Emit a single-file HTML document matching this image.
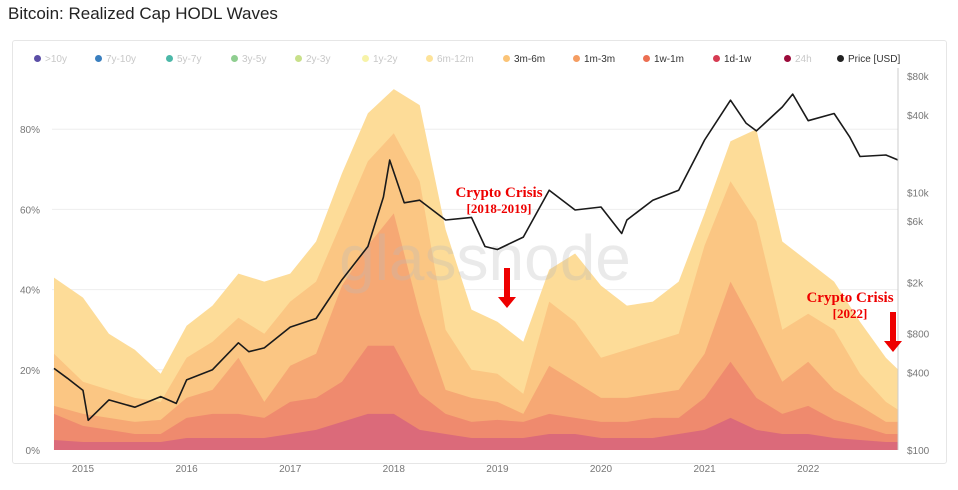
<!DOCTYPE html>
<html><head><meta charset="utf-8">
<style>
body{margin:0;background:#fff;font-family:"Liberation Sans",sans-serif;}
#wrap{position:relative;width:958px;height:490px;overflow:hidden;background:#fff}
.t{position:absolute;left:8px;top:4px;font-size:17px;color:#222;}
.card{position:absolute;left:12px;top:40px;width:933px;height:422px;border:1px solid #e6e6e6;border-radius:3px}
.leg{position:absolute;top:54px;font-size:10px;white-space:nowrap}
.leg i{display:inline-block;width:7px;height:7px;border-radius:50%;margin-right:4px;vertical-align:0}
</style></head>
<body><div id="wrap">
<div class="t">Bitcoin: Realized Cap HODL Waves</div>
<div class="card"></div>
<div id="legend"></div>
<svg id="svg" width="958" height="490" style="position:absolute;left:0;top:0"></svg>
</div>
<script>
const years=[2014.72,2015.0,2015.25,2015.5,2015.75,2016.0,2016.25,2016.5,2016.75,2017.0,2017.25,2017.5,2017.75,2018.0,2018.25,2018.5,2018.75,2019.0,2019.25,2019.5,2019.75,2020.0,2020.25,2020.5,2020.75,2021.0,2021.25,2021.5,2021.75,2022.0,2022.25,2022.5,2022.75,2022.87];
// layer shares (%), bottom to top
const s1d1w=[2.5,2,2,2,2,3,3,3,3,4,5,7,9,9,5,4,3,3,3,4,4,3,3,3,4,5,8,5,4,4,3,2.5,2,2];
const s1w1m=[6.5,4,3,2,2,5,6,6,5,8,8,10,17,17,9,5,4,4.5,4,5,4,4,4,5,4,8,14,8,5,7,4.5,3.5,2,2];
const s1m3m=[2,3,3,3,3.5,5,6,14,4,9,11,24,25,33,20,6,6,4.5,2,12,9,6,6,6,7,11,20,17,8,11,7.5,5,3,3];
const s3m6m=[13,8,7,6,4.5,10,12,10,17,16,18,16,21,20,33,15,7,7,5,16,15,10,12,13,14,27,25,27,13,12,15,8,5,3];
const s6m12m=[19,21,14,12,7,8,9,11,13,7,10,12,12,11,19,25,15,13,13,8,17,18,11,10,13,8,10,23,22,13,12,13,11,10];
const priceYears=[2014.72,2014.85,2015.0,2015.05,2015.25,2015.5,2015.75,2015.9,2016.0,2016.25,2016.5,2016.6,2016.75,2017.0,2017.25,2017.5,2017.75,2017.9,2017.96,2018.1,2018.25,2018.5,2018.75,2018.88,2019.0,2019.25,2019.5,2019.75,2020.0,2020.2,2020.25,2020.5,2020.75,2021.0,2021.25,2021.4,2021.5,2021.75,2021.85,2022.0,2022.25,2022.4,2022.5,2022.75,2022.87];
const prices=[430,360,290,170,245,215,260,230,350,420,680,580,620,900,1050,2100,3800,9200,17800,8300,8700,6100,6400,3800,3600,4500,10400,7300,7700,4800,6100,8700,10400,25500,52000,34500,30000,46000,58000,36000,41000,27000,19000,19500,17800];
const pctTicks=[0,20,40,60,80];
const priceTicks=[100,400,800,2000,6000,10000,40000,80000];
const priceTickLabels=["$100","$400","$800","$2k","$6k","$10k","$40k","$80k"];
const yearTicks=[2015,2016,2017,2018,2019,2020,2021,2022];
const legendNames=[">10y","7y-10y","5y-7y","3y-5y","2y-3y","1y-2y","6m-12m","3m-6m","1m-3m","1w-1m","1d-1w","24h","Price [USD]"];
const legendColors=["#5b4ea6","#3a7fbf","#4cb8a8","#8fce90","#c8e08a","#f7f3a8","#fde39a","#fbc477","#f59d62","#ec6f52","#d63b52","#9b0a3a","#222"];
const legendX=[34,95,166,231,295,362,426,503,573,643,713,784,837];
const layers=[s1d1w,s1w1m,s1m3m,s3m6m,s6m12m];
const layerColors=["#db6a7a","#ef8a6e","#f6a874","#fbc683","#fddc98"];
const layerNames=["area-1d-1w","area-1w-1m","area-1m-3m","area-3m-6m","area-6m-12m"];

const X0=52,X1=898,Y0=450;
const xs=y=>83+(y-2015)*103.6;
const yp=p=>Y0-p*4.01;
const yl=v=>Y0-Math.log10(v/100)*128.8;
const NS="http://www.w3.org/2000/svg";
const svg=document.getElementById('svg');
function mk(t,a){const e=document.createElementNS(NS,t);for(const k in a)e.setAttribute(k,a[k]);svg.appendChild(e);return e;}

const lg=document.getElementById('legend');
legendNames.forEach((n,i)=>{const d=document.createElement('div');d.className='leg';d.style.left=legendX[i]+'px';
d.style.color=(i>=7&&i!=11)?'#333':'#c8c8c8';


d.innerHTML='<i style="background:'+legendColors[i]+'"></i>'+n;lg.appendChild(d);});

pctTicks.forEach(p=>{if(p>0){const g=mk('line',{x1:X0,x2:X1,y1:yp(p),y2:yp(p),stroke:'#eee','stroke-width':1});

}
const t=mk('text',{x:40,y:yp(p)+4,'text-anchor':'end','font-size':10,fill:'#777','font-family':'Liberation Sans'});t.textContent=p+'%';

});

const cum=years.map(()=>0);
const tops=[];
layers.forEach(L=>{const prev=cum.slice();L.forEach((v,i)=>cum[i]+=v);tops.push({lo:prev,hi:cum.slice()});});
for(let k=layers.length-1;k>=0;k--){
 const hi=tops[k].hi;let d='M'+xs(years[0])+','+Y0;
 years.forEach((y,i)=>{d+=' L'+xs(y).toFixed(1)+','+yp(hi[i]).toFixed(1);});
 d+=' L'+xs(years[years.length-1])+','+Y0+' Z';
 const p=mk('path',{d:d,fill:layerColors[k],stroke:'none'});
 
 
}
const wm=mk('text',{x:485,y:280,'text-anchor':'middle','font-size':64,fill:'#bbb','font-family':'Liberation Sans','opacity':0.3});wm.textContent='glassnode';



let pd='';priceYears.forEach((y,i)=>{pd+=(i?' L':'M')+xs(y).toFixed(1)+','+yl(prices[i]).toFixed(1);});
const pl=mk('path',{d:pd,fill:'none',stroke:'#1a1a1a','stroke-width':1.6,'stroke-linejoin':'round'});



const ax=mk('line',{x1:X1,x2:X1,y1:68,y2:Y0,stroke:'#ccc'});


priceTicks.forEach((v,i)=>{const t=mk('text',{x:907,y:yl(v)+4,'font-size':10,fill:'#777','font-family':'Liberation Sans'});t.textContent=priceTickLabels[i];

});
yearTicks.forEach(y=>{const t=mk('text',{x:xs(y),y:472,'text-anchor':'middle','font-size':10,fill:'#777','font-family':'Liberation Sans'});t.textContent=y;

});

function ann(x,y1,y2,label,sub,name){
 const a=mk('text',{x:x,y:y1,'text-anchor':'middle','font-size':15,'font-weight':'bold',fill:'#e00','font-family':'Liberation Serif'});a.textContent=label;
 
 
 const b=mk('text',{x:x,y:y2,'text-anchor':'middle','font-size':13,'font-weight':'bold',fill:'#e00','font-family':'Liberation Serif'});b.textContent=sub;
 
 
}
function arrow(x,ya,yb,name){
 const p=mk('path',{d:`M${x-3},${ya} L${x+3},${ya} L${x+3},${yb-11} L${x+9},${yb-11} L${x},${yb} L${x-9},${yb-11} L${x-3},${yb-11} Z`,fill:'#e00'});
 
 
}
ann(499,197,213,'Crypto Crisis','[2018-2019]','crisis-2018');
arrow(507,268,308,'crisis-2018-arrow');
ann(850,302,318,'Crypto Crisis','[2022]','crisis-2022');
arrow(893,312,352,'crisis-2022-arrow');
</script>
</body></html>
